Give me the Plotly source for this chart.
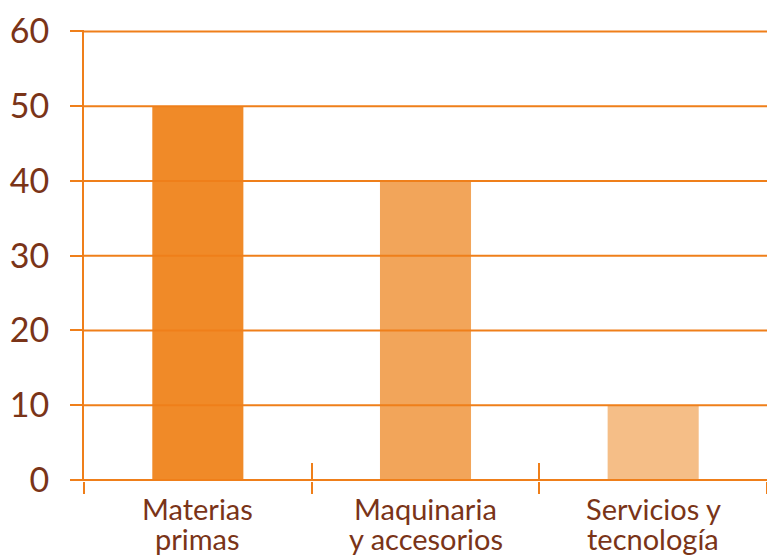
import plotly.graph_objects as go

categories = ["Materias primas", "Maquinaria y accesorios", "Servicios y tecnología"]
line1 = ["Materias", "Maquinaria", "Servicios y"]
line2 = ["primas", "y accesorios", "tecnología"]
values = [50, 40, 10]
bar_colors = ["#F08A28", "#F2A55A", "#F5BE87"]
y_ticks = [0, 10, 20, 30, 40, 50, 60]

ORANGE = "#EF7F1A"
BROWN = "#7A3418"
FONT = "Lato"

fig = go.Figure()
fig.add_trace(go.Bar(x=categories, y=values, marker=dict(color=bar_colors, line=dict(width=0)),
                     width=0.4, hoverinfo="skip", showlegend=False))
# invisible trace to set up second x axis (inner tick marks)
fig.add_trace(go.Bar(x=categories, y=values, xaxis="x2", opacity=0, hoverinfo="skip", showlegend=False))

for v in y_ticks:
    fig.add_shape(type="line", xref="paper", yref="y", x0=0, x1=1, y0=v, y1=v,
                  line=dict(color=ORANGE, width=2), layer="above")

for c, a, b in zip(categories, line1, line2):
    fig.add_annotation(x=c, y=0, xref="x", yref="y", text=a, showarrow=False,
                       yanchor="top", yshift=-9, font=dict(family=FONT, size=29, color=BROWN))
    fig.add_annotation(x=c, y=0, xref="x", yref="y", text=b, showarrow=False,
                       yanchor="top", yshift=-39, font=dict(family=FONT, size=29, color=BROWN))

fig.update_layout(
    width=767, height=555,
    margin=dict(l=84, r=0, t=30, b=74, autoexpand=False),
    paper_bgcolor="white", plot_bgcolor="white",
    bargap=0.6,
    xaxis=dict(type="category", categoryorder="array", categoryarray=categories,
               range=[-0.5, 2.5], tickson="boundaries", ticks="outside", ticklen=12,
               tickwidth=2, tickcolor=ORANGE, showticklabels=False, showgrid=False,
               showline=False, zeroline=False, automargin=False),
    xaxis2=dict(type="category", categoryorder="array", categoryarray=categories,
                range=[-0.5, 2.5], overlaying="x", anchor="y", tickson="boundaries",
                ticks="inside", ticklen=18, tickwidth=2, tickcolor=ORANGE,
                showticklabels=False, showgrid=False, showline=False, zeroline=False,
                automargin=False),
    yaxis=dict(range=[-0.15, 60.2], tickvals=y_ticks, ticks="outside", ticklen=12, tickwidth=2,
               tickcolor=ORANGE, showline=True, linecolor=ORANGE, linewidth=2,
               showgrid=False, zeroline=False, ticklabelstandoff=14, automargin=False,
               tickfont=dict(family=FONT, size=34, color=BROWN)),
)

fig.write_html("out.html", config={"displayModeBar": False},
               post_script="document.body.style.margin='0';document.body.style.overflow='hidden';")
